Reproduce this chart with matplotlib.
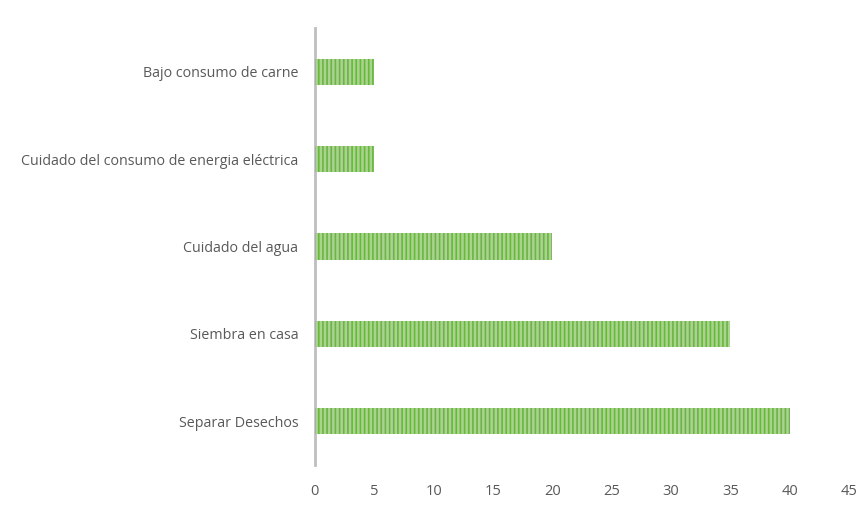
import matplotlib
matplotlib.use("Agg")
import matplotlib.pyplot as plt

plt.rcParams["font.family"] = ["Open Sans", "DejaVu Sans"]
plt.rcParams["hatch.linewidth"] = 1.2

categorias = ["Bajo consumo de carne",
              "Cuidado del consumo de energia eléctrica",
              "Cuidado del agua",
              "Siembra en casa",
              "Separar Desechos"]
valores = [5, 5, 20, 35, 40]
ticks_x = [0, 5, 10, 15, 20, 25, 30, 35, 40, 45]

gris = "#595959"

fig = plt.figure(figsize=(8.65, 5.12), dpi=100)
ax = fig.add_axes([0.364, 0.092, 0.6175, 0.853])

ax.barh(range(len(categorias)), valores, height=0.3,
        color="#a9d48e", edgecolor="#6cb545", hatch="||||",
        linewidth=0, zorder=3)

ax.set_ylim(len(categorias) - 0.5, -0.5)
ax.set_xlim(0, 45)
ax.set_yticks(range(len(categorias)))
ax.set_yticklabels(categorias, fontsize=10.3, color=gris)
ax.set_xticks(ticks_x)
ax.set_xticklabels([str(t) for t in ticks_x], fontsize=10.5, color=gris)
ax.tick_params(axis="both", length=0)
ax.tick_params(axis="y", pad=12)
ax.tick_params(axis="x", pad=14)

for lado in ["top", "right", "bottom"]:
    ax.spines[lado].set_visible(False)
ax.spines["left"].set_color("#bfbfbf")
ax.spines["left"].set_linewidth(2)

fig.savefig("out.png", dpi=100)
